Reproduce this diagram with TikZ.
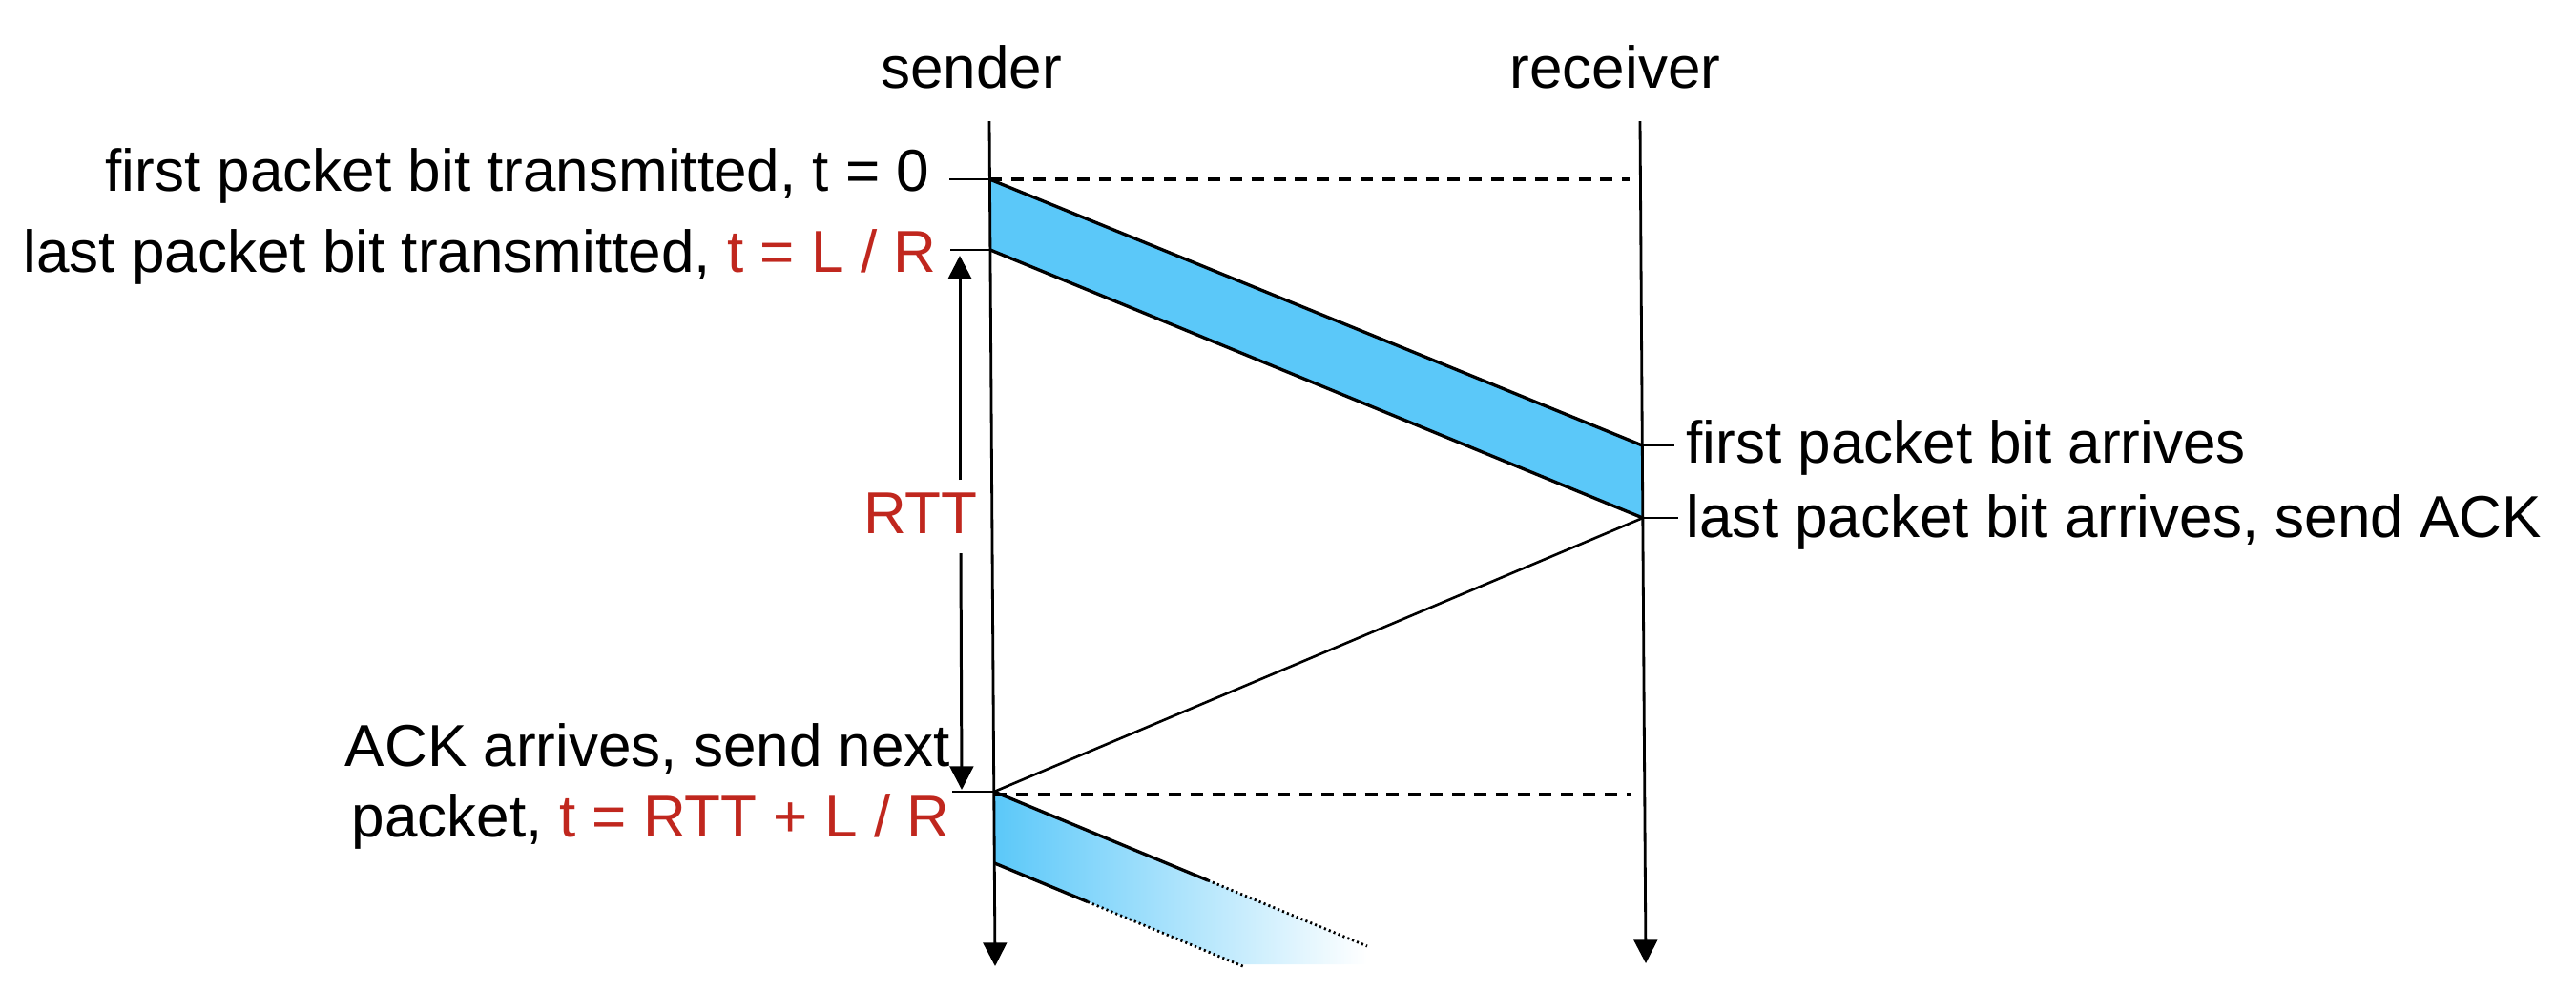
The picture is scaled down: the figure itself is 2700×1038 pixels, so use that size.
\documentclass[tikz,border=0pt]{standalone}
\usepackage{fontspec}
\setmainfont{Liberation Sans}
\usetikzlibrary{arrows.meta}
\definecolor{pkt}{RGB}{91,200,249}
\definecolor{tred}{RGB}{192,39,30}
\begin{document}
\begin{tikzpicture}[x=0.01cm,y=-0.01cm,
  lbl/.style={inner sep=0pt, font=\fontsize{17.64pt}{21pt}\selectfont},
  tip/.style={-{Triangle[width=7pt,length=7pt]}},
  life/.style={line width=0.8pt, tip},
  pedge/.style={line width=0.95pt},
  tick/.style={line width=0.8pt},
  dsh/.style={line width=0.9pt, dash pattern=on 3.7pt off 2.8pt},
  dotline/.style={line width=0.8pt, dash pattern=on 0.6pt off 0.9pt},
  rttarrow/.style={line width=0.85pt, tip},
]
\useasboundingbox (0,0) rectangle (2700,1038);
% lifeline points
\coordinate (sTop) at (1037,127);
\coordinate (sBot) at (1043,1013);
\coordinate (rTop) at (1719,127);
\coordinate (rBot) at (1725,1010);
\coordinate (s1) at (1037.4,188);
\coordinate (s2) at (1038,262);
\coordinate (s3) at (1042,830);
\coordinate (s4) at (1042.5,905);
\coordinate (r1) at (1721.3,467);
\coordinate (r2) at (1721.8,543);
% next packet points
\coordinate (n1) at (1266,923);
\coordinate (n2) at (1433,992);
\coordinate (n3) at (1140,945.5);
\coordinate (n4) at (1305,1014);
\coordinate (nb1) at (1433,1011);
\coordinate (nb2) at (1298,1011);
% dashed ends
\coordinate (d1) at (1708,188);
\coordinate (d2a) at (1042,833);
\coordinate (d2b) at (1710,833);
% tick ends
\coordinate (t1) at (995,188);
\coordinate (t2) at (996,262);
\coordinate (t3) at (998,830);
\coordinate (t4) at (1755,467);
\coordinate (t5) at (1759,543);
% RTT arrow
\coordinate (ra1) at (1006,503);
\coordinate (ra2) at (1006,268);
\coordinate (ra3) at (1007,580);
\coordinate (ra4) at (1008,828);

% first packet
\fill[pkt] (s1) -- (r1) -- (r2) -- (s2) -- cycle;
\draw[pedge] (s1) -- (r1);
\draw[pedge] (s2) -- (r2);
% next packet
\shade[left color=pkt, right color=white] (s3) -- (n2) -- (nb1) -- (nb2) -- (s4) -- cycle;
\draw[pedge] (s3) -- (n1);
\draw[dotline] (n1) -- (n2);
\draw[pedge] (s4) -- (n3);
\draw[dotline] (n3) -- (n4);
% ACK
\draw[line width=0.75pt] (r2) -- (s3);
% dashed
\draw[dsh] (s1) -- (d1);
\draw[dsh] (d2a) -- (d2b);
% ticks
\draw[tick] (t1) -- (s1);
\draw[tick] (t2) -- (s2);
\draw[tick] (t3) -- (s3);
\draw[tick] (r1) -- (t4);
\draw[tick] (r2) -- (t5);
% lifelines
\draw[life] (sTop) -- (sBot);
\draw[life] (rTop) -- (rBot);
% RTT
\draw[rttarrow] (ra1) -- (ra2);
\draw[rttarrow] (ra3) -- (ra4);

% labels
\node[lbl, anchor=base] (sender) at (1018,92) {sender};
\node[lbl, anchor=base] (receiver) at (1693,92) {receiver};
\node[lbl, anchor=base east] (ft) at (975,200) {first packet bit transmitted, t = 0};
\node[lbl, anchor=base east] (lt) at (982,285) {last packet bit transmitted, \textcolor{tred}{t = L / R}};
\node[lbl, anchor=base] (rtt) at (965,559) {\textcolor{tred}{RTT}};
\node[lbl, anchor=base east] (ack1) at (997,803) {ACK arrives, send next};
\node[lbl, anchor=base east] (ack2) at (996,877) {packet, \textcolor{tred}{t = RTT + L / R}};
\node[lbl, anchor=base west] (fa) at (1767,485) {first packet bit arrives};
\node[lbl, anchor=base west] (la) at (1767,563) {last packet bit arrives, send ACK};
\end{tikzpicture}
\end{document}
